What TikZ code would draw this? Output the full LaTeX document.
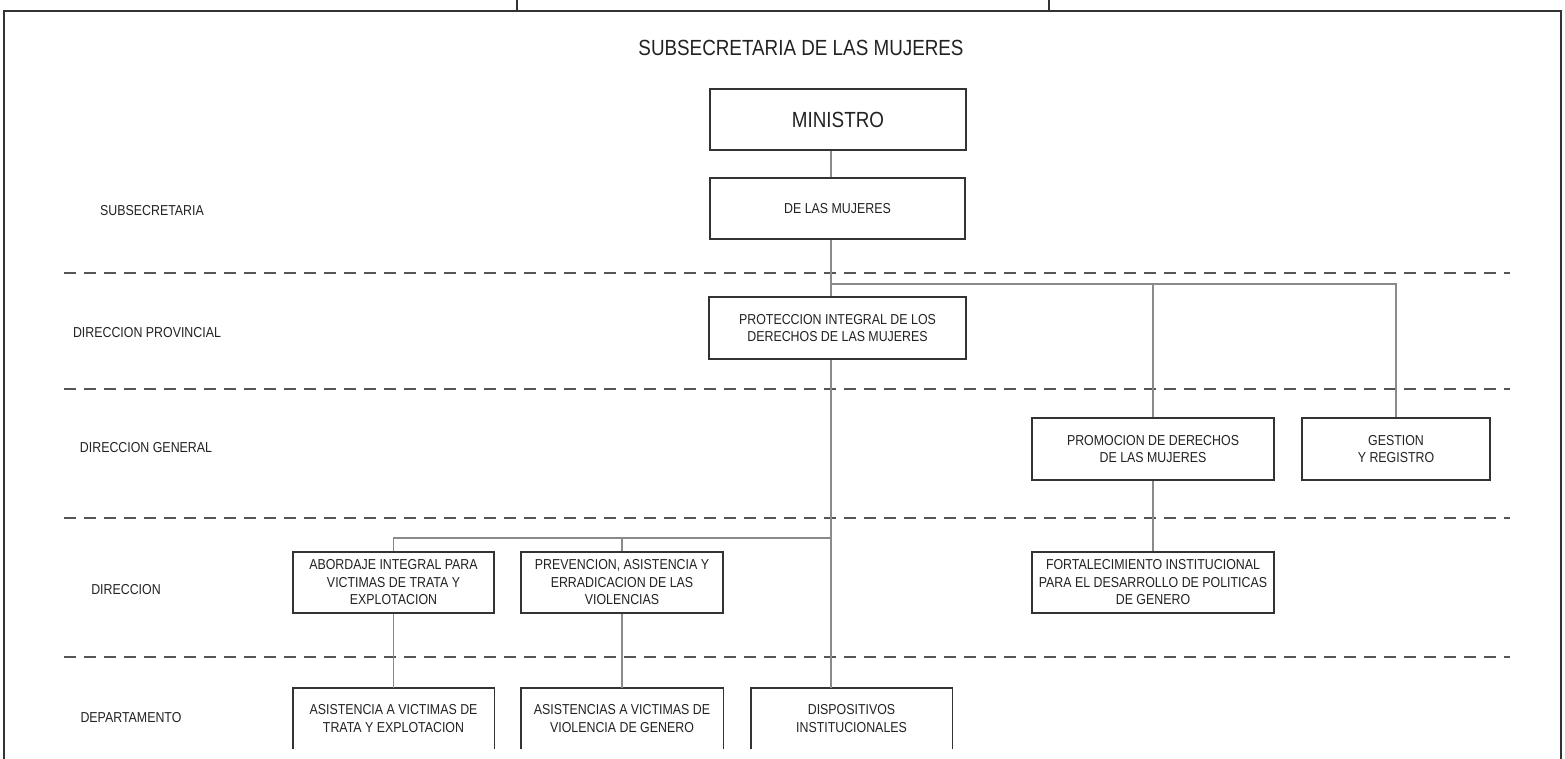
\documentclass[tikz,border=0pt]{standalone}
\usepackage{fontspec}
\setmainfont{Liberation Sans}[FakeStretch=0.86]
\definecolor{boxc}{HTML}{333333}
\definecolor{connc}{HTML}{8A8A8A}
\definecolor{sepc}{HTML}{555555}
\definecolor{txt}{HTML}{222222}
\begin{document}
\begin{tikzpicture}[x=1pt,y=-1pt,
  box/.style={draw=boxc, line width=1.4pt, fill=white, minimum width=#1, minimum height=61pt,
    inner sep=0pt, align=center, font=\fontsize{14.4}{17.5}\selectfont, text=txt},
  openbox/.style={minimum width=#1, minimum height=61pt, inner sep=0pt, align=center,
    font=\fontsize{14.4}{17.5}\selectfont, text=txt},
  opensides/.style={draw=boxc, line width=1.4pt},
  lbl/.style={font=\fontsize{14.4}{16}\selectfont, text=txt, inner sep=0pt},
  conn/.style={draw=connc, line width=1.2pt},
  sepline/.style={draw=sepc, line width=1.5pt, dash pattern=on 12pt off 8pt},
  frameline/.style={draw=boxc, line width=2.4pt}
]
\useasboundingbox (0,0) rectangle (1565,758);
\begin{scope}
\clip (0,0) rectangle (1565,758);
% frame
\draw[frameline] (4,770) -- (4,11) -- (1561,11) -- (1561,770);
\draw[draw=boxc, line width=1.5pt] (517,-2) -- (517,11);
\draw[draw=boxc, line width=1.5pt] (1049,-2) -- (1049,11);

% title
\node[font=\fontsize{21.9}{25}\selectfont, text=txt, inner sep=0pt] (title) at (801,48) {SUBSECRETARIA DE LAS MUJERES};

% separators
\foreach \yy in {273,389,518,657} \draw[sepline] (64,\yy) -- (1510,\yy);

% level labels
\node[lbl] (l1) at (152,211) {SUBSECRETARIA};
\node[lbl] (l2) at (147,333) {DIRECCION PROVINCIAL};
\node[lbl] (l3) at (146,448) {DIRECCION GENERAL};
\node[lbl] (l4) at (126,590) {DIRECCION};
\node[lbl] (l5) at (131,718) {DEPARTAMENTO};

% trunk coordinates
\coordinate (trunk) at (831,0);
\coordinate (jA) at (831,284);
\coordinate (jB) at (831,538);

% boxes
\node[box=256, font=\fontsize{21.9}{25}\selectfont] (min) at (838,119.5) {MINISTRO};
\node[box=255] (dlm) at (837.5,208.5) {DE LAS MUJERES};
\node[box=257, minimum height=62pt] (prot) at (837.5,328) {PROTECCION INTEGRAL DE LOS\\DERECHOS DE LAS MUJERES};
\node[box=242, minimum height=62pt] (prom) at (1153,449) {PROMOCION DE DERECHOS\\DE LAS MUJERES};
\node[box=188, minimum height=62pt] (gest) at (1396,449) {GESTION\\Y REGISTRO};
\node[box=242] (fort) at (1153,582.5) {FORTALECIMIENTO INSTITUCIONAL\\PARA EL DESARROLLO DE POLITICAS\\DE GENERO};
\node[box=201] (abor) at (393.5,582.5) {ABORDAJE INTEGRAL PARA\\VICTIMAS DE TRATA Y\\EXPLOTACION};
\node[box=202] (prev) at (622,582.5) {PREVENCION, ASISTENCIA Y\\ERRADICACION DE LAS\\VIOLENCIAS};
\node[openbox=201] (as1) at (393.5,718.5) {ASISTENCIA A VICTIMAS DE\\TRATA Y EXPLOTACION};
\node[openbox=202] (as2) at (622,718.5) {ASISTENCIAS A VICTIMAS DE\\VIOLENCIA DE GENERO};
\node[openbox=201] (disp) at (851.5,718.5) {DISPOSITIVOS\\INSTITUCIONALES};
\foreach \b in {as1,as2,disp}
  \draw[opensides] (\b.south west) -- (\b.north west) -- (\b.north east) -- (\b.south east);

% connectors
\draw[conn] (min.south -| trunk) -- (dlm.north -| trunk);
\draw[conn] (dlm.south -| trunk) -- (prot.north -| trunk);
\draw[conn] (jA) -| (gest.north);
\draw[conn] (jA -| prom.north) -- (prom.north);
\draw[conn] (prom.south) -- (fort.north);
\draw[conn] (prot.south -| trunk) -- (disp.north -| trunk);
\draw[conn] (jB) -| (abor.north);
\draw[conn] (jB -| prev.north) -- (prev.north);
\draw[conn] (abor.south) -- (as1.north);
\draw[conn] (prev.south) -- (as2.north);
\end{scope}
\end{tikzpicture}
\end{document}
